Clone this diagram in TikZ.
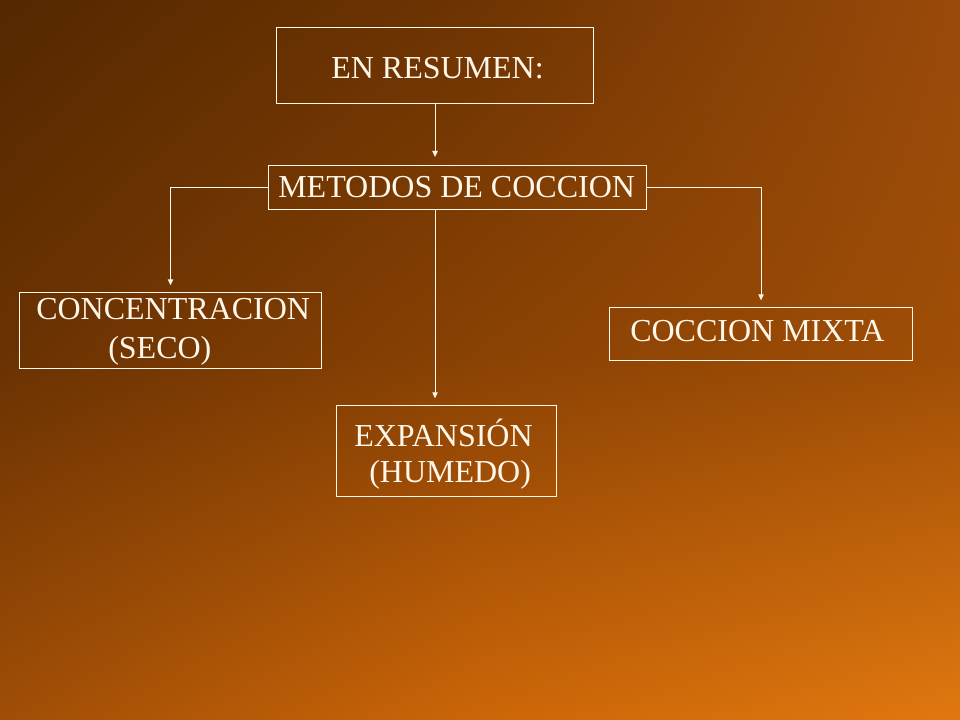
\documentclass[tikz,border=0pt]{standalone}
\usepackage{fontspec}
\setmainfont{Liberation Serif}
\usetikzlibrary{arrows.meta,shadings}
\definecolor{cTL}{HTML}{542800}
\definecolor{cTM}{HTML}{6E3402}
\definecolor{cTR}{HTML}{9A4A0A}
\definecolor{cLM}{HTML}{6A3202}
\definecolor{cC}{HTML}{8A4204}
\definecolor{cRM}{HTML}{A04E06}
\definecolor{cBL}{HTML}{A04E06}
\definecolor{cBM}{HTML}{CC6608}
\definecolor{cBR}{HTML}{E07810}
\definecolor{ink}{HTML}{FFF7EA}
\tikzset{
  box/.style={draw=ink, line width=0.8pt, anchor=north west, inner sep=0pt},
  lbl/.style={anchor=base west, inner sep=0pt, text=ink, font=\fontsize{24}{28}\selectfont},
  arr/.style={draw=ink, line width=0.8pt, -{Triangle[length=4.5pt,width=4pt]}}
}
\begin{document}
\begin{tikzpicture}[x=0.75pt,y=-0.75pt]
\useasboundingbox (0pt,0pt) rectangle (720pt,-540pt);
% background gradient in four quadrants
\shade[upper left=cTL, upper right=cTM, lower left=cLM, lower right=cC] (0pt,0pt) rectangle (360.5pt,-270.5pt);
\shade[upper left=cTM, upper right=cTR, lower left=cC, lower right=cRM] (359.5pt,0pt) rectangle (720pt,-270.5pt);
\shade[upper left=cLM, upper right=cC, lower left=cBL, lower right=cBM] (0pt,-269.5pt) rectangle (360.5pt,-540pt);
\shade[upper left=cC, upper right=cRM, lower left=cBM, lower right=cBR] (359.5pt,-269.5pt) rectangle (720pt,-540pt);

% boxes
\node[box, minimum width=237.75pt, minimum height=57pt] (res) at (276,27) {};
\node[box, minimum width=283.5pt, minimum height=33pt] (met) at (268,165) {};
\node[box, minimum width=226.5pt, minimum height=57pt] (conc) at (19,292) {};
\node[box, minimum width=227.25pt, minimum height=39.75pt] (mix) at (609,307) {};
\node[box, minimum width=165pt, minimum height=68.25pt] (exp) at (336,405) {};

% texts
\node[lbl] (tres) at (331,79) {EN RESUMEN:};
\node[lbl] (tmet) at (278,198) {METODOS DE COCCION};
\node[lbl] (tconc1) at (36,320) {CONCENTRACION};
\node[lbl] (tconc2) at (108,358) {(SECO)};
\node[lbl] (tmix) at (630,341) {COCCION MIXTA};
\node[lbl] (texp1) at (354,446) {EXPANSIÓN};
\node[lbl] (texp2) at (369,482) {(HUMEDO)};

% connectors
\draw[arr, shorten >=6pt] (res.south) -- (res.south |- met.north);
\draw[arr, shorten >=5pt] (met.west) -| (conc.north);
\draw[arr, shorten >=5pt] (met.east) -| (mix.north);
\draw[arr, shorten >=5pt] (res.south |- met.south) -- (res.south |- exp.north);
\end{tikzpicture}
\end{document}
